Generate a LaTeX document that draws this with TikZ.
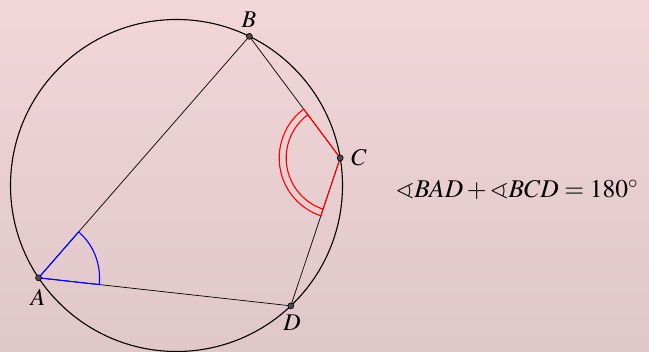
\documentclass[tikz,border=0pt]{standalone}
\usepackage{amssymb}
\usepackage{mathptmx}
\usetikzlibrary{calc}
\definecolor{bgtop}{RGB}{242,214,216}
\definecolor{bgbot}{RGB}{224,199,202}
\begin{document}
\begin{tikzpicture}[x=1pt,y=1pt,
  chord/.style={draw=black,line width=0.7pt},
  pt/.style={circle,draw=black,fill=black!70,inner sep=0pt,minimum size=6pt,line width=0.6pt},
  lbl/.style={font=\fontsize{24}{26}\selectfont,inner sep=1pt}]
\useasboundingbox (0,0) rectangle (649,-352);
\shade[top color=bgtop,bottom color=bgbot] (0,0) rectangle (649,-352);
\coordinate (O) at (176.5,-185.5);
\coordinate (B) at ($(O)+(63.97:166)$);
\coordinate (C) at ($(O)+(9.55:166)$);
\coordinate (D) at ($(O)+(-46.47:166)$);
\coordinate (A) at ($(O)+(213.8:166)$);
\draw[line width=1.1pt] (O) circle[radius=166];
\draw[chord] (A) -- (B) -- (C) -- (D) -- cycle;
% angle at A
\draw[blue,line width=1.1pt] let \p1=($(D)-(A)$), \p2=($(B)-(A)$),
  \n1={atan2(\y1,\x1)}, \n2={atan2(\y2,\x2)} in
  (A) -- ($(A)+(\n1:61)$) arc[start angle=\n1,end angle=\n2,radius=61] -- cycle;
% angle at C
\draw[red,line width=1.1pt] let \p1=($(B)-(C)$), \p2=($(D)-(C)$),
  \n1={atan2(\y1,\x1)}, \n2={atan2(\y2,\x2)+360} in
  (C) -- ($(C)+(\n1:61)$) arc[start angle=\n1,end angle=\n2,radius=61] -- cycle
  ($(C)+(\n1:54)$) arc[start angle=\n1,end angle=\n2,radius=54];
\node[pt] (pA) at (A) {};
\node[pt] (pB) at (B) {};
\node[pt] (pC) at (C) {};
\node[pt] (pD) at (D) {};
\node[lbl] (lB) at (249,-20) {$B$};
\node[lbl] (lC) at (359,-158) {$C$};
\node[lbl] (lA) at (38,-297) {$A$};
\node[lbl] (lD) at (292,-323) {$D$};
\node[font=\fontsize{25.5}{28}\selectfont,inner sep=0pt] (eq) at (517,-190)
  {$\sphericalangle BAD+\sphericalangle BCD=180^\circ$};
\end{tikzpicture}
\end{document}
